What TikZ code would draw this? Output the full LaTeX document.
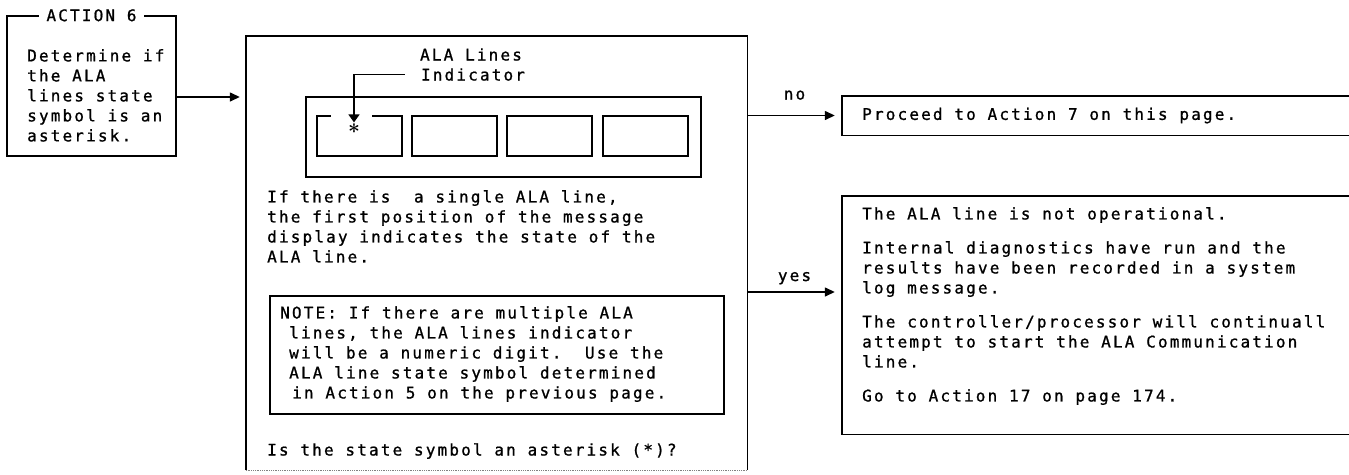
\documentclass[tikz,border=0pt]{standalone}
\usepackage{fontspec}
\newfontfamily\manualfont[LetterSpace=13.5, FakeBold=1]{DejaVu Sans Mono}
\usetikzlibrary{arrows.meta}

\begin{document}
\begin{tikzpicture}[x=1pt, y=-1pt,
  box/.style={draw, rectangle, line width=1.4pt, inner sep=0pt},
  txt/.style={inner sep=0pt, align=left, anchor=north west,
              font=\manualfont\fontsize{16pt}{20pt}\selectfont\frenchspacing},
  arr/.style={-{Triangle[length=10pt, width=9pt]}, line width=1.4pt},
  lbl/.style={txt, anchor=base, midway}
]
\useasboundingbox (0,0) rectangle (1349,474);
\node[box, minimum width=169pt, minimum height=140pt] (act) at (91.5,86) {};
\node[txt, anchor=center, fill=white, inner xsep=7pt, inner ysep=1pt] (acttitle) at (act.north) {ACTION 6};
\node[txt] (acttext) at (27,49) {Determine if\\the ALA\\lines state\\symbol is an\\asterisk.};
\node[inner sep=0pt, minimum width=501pt, minimum height=434pt] (main) at (496.5,253) {};
\draw[line width=1.4pt] (main.south west) -- (main.north west) -- (main.north east) -- (main.south east);
\draw[line width=0.8pt, gray, densely dotted] (main.south west) -- (main.south east);
\node[box, minimum width=395pt, minimum height=80pt] (disp) at (503.5,137) {};
\foreach \i/\cx in {1/359.5, 2/454.5, 3/549.5, 4/645.5}
  \node[box, minimum width=85pt, minimum height=40pt] (cell\i) at (\cx,136) {};
\fill[white] (331,112) rectangle (372,120);
\node[txt, anchor=base] (alalbl) at (471,60.5) {ALA Lines};
\node[txt, anchor=base] (indlbl) at (473,80.5) {Indicator};
\node[inner sep=0pt, font=\huge\boldmath] (star) at (354,128.5) {$\ast$};
\draw[line width=1.4pt, -{Triangle[length=8pt, width=11pt]}, shorten >=1pt] ([xshift=-16pt]indlbl.west) -| (star.north);
\node[txt] (single) at (267,190) {If there is\ \ a single ALA line,\\the first position of the message\\display indicates the state of the\\ALA line.};
\node[box, minimum width=454pt, minimum height=118pt] (notebox) at (497,355) {};
\node[txt] (notetext) at (280,306) {NOTE: If there are multiple ALA\\\hspace*{9pt}lines, the ALA lines indicator\\\hspace*{9pt}will be a numeric digit.\ \ Use the\\\hspace*{9pt}ALA line state symbol determined\\\hspace*{12pt}in Action 5 on the previous page.};
\node[txt, anchor=base west] (ask) at (267,455.5) {Is the state symbol an asterisk (*)?};
\node[inner sep=0pt, minimum width=507pt, minimum height=39pt] (go7) at (1095.5,115.5) {};
\draw[line width=1.4pt] (go7.north east) -- (go7.north west) -- (go7.south west) -- (go7.south east);
\node[txt, anchor=west] (go7text) at (862,115.5) {Proceed to Action 7 on this page.};
\node[inner sep=0pt, minimum width=507pt, minimum height=238pt] (alert) at (1095.5,315) {};
\draw[line width=1.4pt] (alert.north east) -- (alert.north west) -- (alert.south west) -- (alert.south east);
\node[txt] (alerttext) at (862,207) {The ALA line is not operational.\\[14pt]Internal diagnostics have run and the\\results have been recorded in a system\\log message.\\[14pt]The controller/processor will continuall\\attempt to start the ALA Communication\\line.\\[14pt]Go to Action 17 on page 174.};
\coordinate (actout) at ([yshift=-11pt]act.east);
\draw[arr, shorten >=6pt] (actout) -- (actout -| main.west);
\draw[arr, shorten >=7pt] (main.east |- go7.west) -- (go7.west) node[lbl, yshift=16pt] {no};
\coordinate (alertin) at ([yshift=23pt]alert.west);
\draw[arr, shorten >=7pt] (main.east |- alertin) -- (alertin) node[lbl, yshift=11pt] {yes};
\end{tikzpicture}
\end{document}
